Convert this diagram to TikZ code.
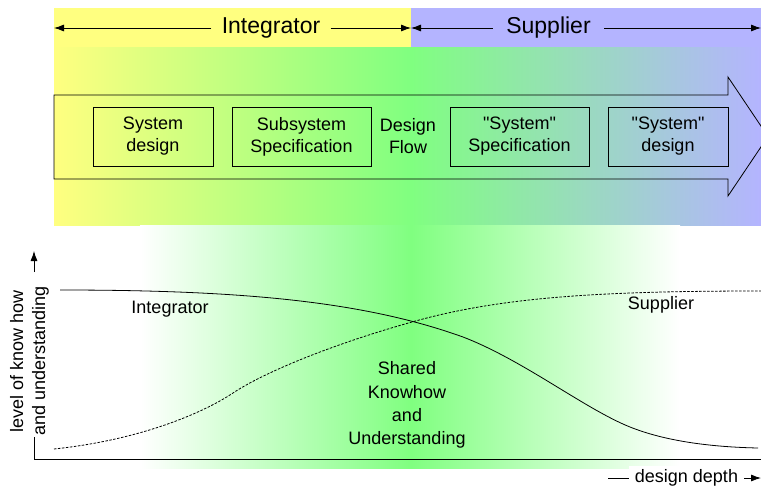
\documentclass[tikz,border=0pt]{standalone}
\usepackage{fontspec}
\setmainfont{Liberation Sans}[Ligatures=TeXOff]
\usetikzlibrary{arrows.meta}

\definecolor{intyellow}{RGB}{255,255,128}
\definecolor{suppurple}{RGB}{180,180,255}
\definecolor{sharedgreen}{RGB}{128,255,128}

\begin{document}
\begin{tikzpicture}[x=1pt,y=-1pt,line width=0.8pt,font=\fontsize{18}{22}\selectfont,
  stage/.style={rectangle,draw=black,minimum height=59pt,align=center,inner sep=0pt},
  headarrow/.style={-{Latex[length=10pt,width=7pt]}},
  bigfont/.style={font=\fontsize{23}{28}\selectfont}]
\useasboundingbox (0,0) rectangle (761,490);
\clip (0,0) rectangle (761,490);
\fill [intyellow] (54,8) rectangle (411,47);
\fill [suppurple] (411,8) rectangle (761,47);
\shade [left color=intyellow,right color=sharedgreen] (54,47) rectangle (411,225);
\shade [left color=sharedgreen,right color=suppurple] (411,47) rectangle (761,225);
\shade [left color=white,right color=sharedgreen] (140,225) rectangle (411,468);
\shade [left color=sharedgreen,right color=white] (411,225) rectangle (680,468);
\node at (271,28) (intlabel) [bigfont,inner xsep=10pt] {Integrator};
\node at (548.5,28) (suplabel) [bigfont,inner xsep=13pt] {Supplier};
\coordinate (intleft) at (54,28);
\coordinate (border) at (411,28);
\coordinate (supright) at (761,28);
\draw [headarrow] (intlabel.west) -- (intleft);
\draw [headarrow] (intlabel.east) -- (border);
\draw [headarrow] (suplabel.west) -- (border);
\draw [headarrow] (suplabel.east) -- (supright);
\draw (54,95) -- (728,95) -- (728,77) -- (768,136.5) -- (728,196) -- (728,179) -- (54,179) -- cycle;
\node at (153,136.5) (sysdesign) [stage,minimum width=120pt] {System\\design};
\node at (301.5,136.5) (subspec) [stage,minimum width=139pt] {Subsystem\\Specification};
\node at (408,136.5) (flow) [align=center] {Design\\Flow};
\node at (519.5,136.5) (supspec) [stage,minimum width=139pt] {"System"\\Specification};
\node at (668,136.5) (supdesign) [stage,minimum width=120pt] {"System"\\design};
\coordinate (origin) at (34,459);
\coordinate (ylow) at (34,437);
\coordinate (yhigh) at (34,272);
\coordinate (ytip) at (34,251);
\coordinate (xend) at (761,459);
\draw (ylow) -- (origin) -- (xend);
\draw [headarrow] (yhigh) -- (ytip);
\node at (29.5,361) (ylabel) [rotate=90,align=center] {level of know how\\and understanding};
\node at (686.5,478) (xlabel) [fill=white,inner xsep=6pt] {design depth};
\coordinate (xstart) at (608,478);
\coordinate (xtip) at (761,478);
\draw (xstart) -- (xlabel.west);
\draw [headarrow] (xlabel.east) -- (xtip);
\draw (60,290) .. controls (240,290) and (363,301) .. (463,337)
  .. controls (523,360) and (585,409) .. (630,427)
  .. controls (665,441) and (710,447) .. (758,448);
\draw [dash pattern=on 2.5pt off 1.5pt] (54,449) .. controls (140,440) and (203,413) .. (233,393)
  .. controls (263,373) and (330,345) .. (412,322)
  .. controls (500,297) and (600,291) .. (761,291);
\node at (170,309) (intcurve) {Integrator};
\node at (661,305) (supcurve) {Supplier};
\node at (407,405) (shared) [align=center,font=\fontsize{18}{23.3}\selectfont] {Shared\\Knowhow\\and\\Understanding};
\end{tikzpicture}
\end{document}
